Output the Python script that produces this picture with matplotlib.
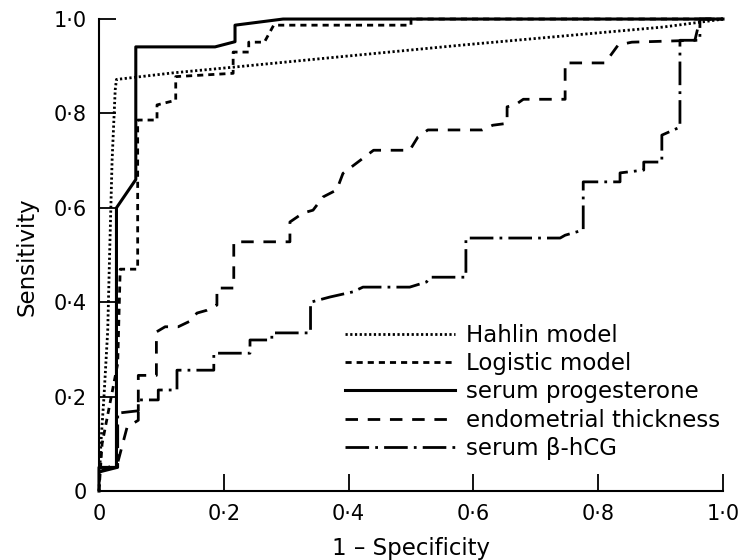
import matplotlib
matplotlib.use("Agg")
import matplotlib.pyplot as plt

plt.rcParams['font.family'] = ['DejaVu Sans']

# ---- data ----
hahlin_x = [0, 0.003, 0.008, 0.014, 0.017, 0.021, 0.026, 0.028, 0.119, 0.215, 0.386, 0.583, 0.904, 0.99, 1.0]
hahlin_y = [0, 0.10, 0.20, 0.34, 0.50, 0.70, 0.85, 0.872, 0.886, 0.898, 0.920, 0.945, 0.983, 0.998, 1.0]

logit_x = [0, 0.005, 0.030, 0.034, 0.062, 0.062, 0.093, 0.093, 0.123, 0.123, 0.215, 0.215, 0.240, 0.240, 0.265, 0.280, 0.500, 0.500, 1.0]
logit_y = [0, 0.10, 0.27, 0.47, 0.47, 0.786, 0.786, 0.818, 0.828, 0.878, 0.885, 0.930, 0.930, 0.951, 0.951, 0.987, 0.987, 1.0, 1.0]

prog_x = [0, 0, 0.028, 0.028, 0.059, 0.059, 0.186, 0.218, 0.218, 0.295, 1.0]
prog_y = [0, 0.05, 0.05, 0.60, 0.66, 0.941, 0.941, 0.952, 0.987, 1.0, 1.0]

endo_x = [0, 0.030, 0.045, 0.063, 0.063, 0.092, 0.092, 0.106, 0.127, 0.146, 0.157, 0.173, 0.189, 0.189,
          0.216, 0.216, 0.306, 0.306, 0.327, 0.343, 0.359, 0.381, 0.391, 0.413, 0.440, 0.498, 0.511,
          0.527, 0.614, 0.631, 0.654, 0.654, 0.667, 0.680, 0.747, 0.747, 0.811, 0.832, 0.854, 0.955,
          0.963, 1.0]
endo_y = [0.04, 0.06, 0.135, 0.150, 0.245, 0.245, 0.337, 0.348, 0.348, 0.360, 0.377, 0.383, 0.394, 0.430,
          0.430, 0.528, 0.528, 0.570, 0.589, 0.595, 0.623, 0.638, 0.673, 0.695, 0.722, 0.722, 0.750,
          0.765, 0.765, 0.775, 0.779, 0.814, 0.818, 0.830, 0.830, 0.907, 0.907, 0.945, 0.951, 0.955,
          1.0, 1.0]

hcg_x = [0, 0.030, 0.030, 0.063, 0.063, 0.095, 0.095, 0.125, 0.125, 0.184, 0.184, 0.242, 0.242, 0.277,
         0.277, 0.339, 0.339, 0.370, 0.407, 0.423, 0.498, 0.525, 0.530, 0.588, 0.588, 0.739, 0.747,
         0.776, 0.776, 0.835, 0.835, 0.873, 0.873, 0.902, 0.902, 0.931, 0.931, 0.963, 0.963, 1.0]
hcg_y = [0.04, 0.05, 0.165, 0.170, 0.193, 0.193, 0.214, 0.214, 0.256, 0.256, 0.292, 0.292, 0.320, 0.320,
         0.335, 0.335, 0.400, 0.411, 0.422, 0.432, 0.432, 0.443, 0.453, 0.453, 0.536, 0.536, 0.542,
         0.553, 0.655, 0.655, 0.674, 0.680, 0.697, 0.697, 0.754, 0.771, 0.955, 0.955, 1.0, 1.0]

labels = ["Hahlin model", "Logistic model", "serum progesterone",
          "endometrial thickness", "serum \u03b2-hCG"]
tick_vals = [0, 0.2, 0.4, 0.6, 0.8, 1.0]
tick_labels = ["0", "0\u00b72", "0\u00b74", "0\u00b76", "0\u00b78", "1\u00b70"]

fig = plt.figure(figsize=(7.42, 5.6), dpi=100)
ax = fig.add_axes([0.1334, 0.1232, 0.8410, 0.8428])

lw = 2.0
ax.plot(hahlin_x, hahlin_y, color='black', lw=lw, dashes=(0.8, 0.9), clip_on=False, label=labels[0])
ax.plot(logit_x, logit_y, color='black', lw=lw, dashes=(2.2, 1.8), clip_on=False, label=labels[1])
ax.plot(prog_x, prog_y, color='black', lw=2.2, clip_on=False, label=labels[2])
ax.plot(endo_x, endo_y, color='black', lw=lw, dashes=(4.5, 3.5), clip_on=False, label=labels[3])
ax.plot(hcg_x, hcg_y, color='black', lw=lw, dashes=(8.5, 2.2, 1.0, 2.2), clip_on=False, label=labels[4])

ax.set_xlim(0, 1.0)
ax.set_ylim(0, 1.0)
ax.set_xticks(tick_vals)
ax.set_xticklabels(tick_labels)
ax.set_yticks(tick_vals)
ax.set_yticklabels(tick_labels)

for s in ['top', 'right']:
    ax.spines[s].set_visible(False)
for s in ['left', 'bottom']:
    ax.spines[s].set_linewidth(1.5)

ax.tick_params(direction='in', length=12, width=1.3, labelsize=15, pad=9)
ax.set_xlabel("1 \u2013 Specificity", fontsize=16.5)
ax.set_ylabel("Sensitivity", fontsize=16.5)
ax.xaxis.set_label_coords(0.5, -0.098)
ax.yaxis.set_label_coords(-0.097, 0.496)

leg = ax.legend(loc='upper left', bbox_to_anchor=(0.394, 0.353), frameon=False,
                fontsize=16.5, handlelength=4.8, handletextpad=0.48, labelspacing=0.22,
                borderpad=0, borderaxespad=0)

fig.savefig("out.png", dpi=100)
